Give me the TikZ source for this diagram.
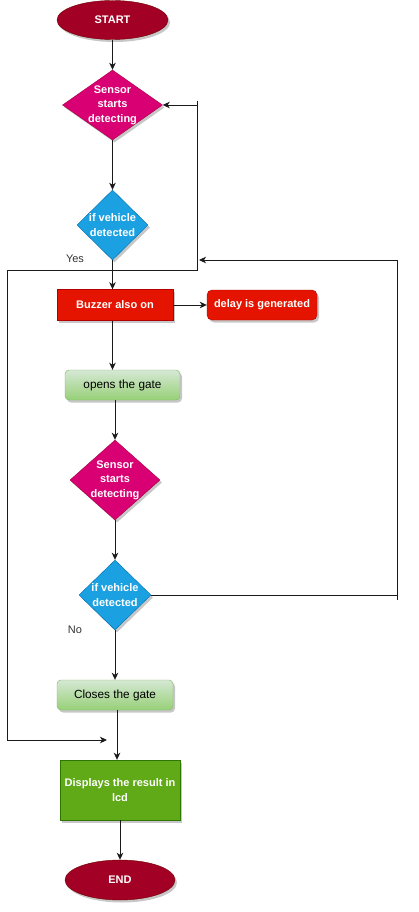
\documentclass[tikz,border=0pt]{standalone}
\usepackage{fontspec}
\setmainfont{Liberation Sans}
\usetikzlibrary{shapes.geometric,arrows.meta,shadows}
\definecolor{termfill}{HTML}{A20025}
\definecolor{termdraw}{HTML}{6F0000}
\definecolor{magfill}{HTML}{D80073}
\definecolor{magdraw}{HTML}{A50040}
\definecolor{bluefill}{HTML}{1BA1E2}
\definecolor{bluedraw}{HTML}{006EAF}
\definecolor{redfill}{HTML}{E51400}
\definecolor{reddraw}{HTML}{B20000}
\definecolor{gtop}{HTML}{D5E8D4}
\definecolor{gbot}{HTML}{97D077}
\definecolor{gdraw}{HTML}{82B366}
\definecolor{dgfill}{HTML}{60A917}
\definecolor{dgdraw}{HTML}{2D7600}
\definecolor{edgecol}{HTML}{1A1A1A}
\definecolor{labcol}{HTML}{333333}
\begin{document}
\begin{tikzpicture}[x=1pt,y=-1pt,
  shadowed/.style={drop shadow={shadow xshift=2pt,shadow yshift=-2.5pt,opacity=0.22,fill=black}},
  wtext/.style={text=white,font=\bfseries\fontsize{11}{14.5}\selectfont,align=center},
  btext/.style={text=black,font=\fontsize{11.8}{14.5}\selectfont,align=center},
  terminal/.style={ellipse,draw=termdraw,fill=termfill,inner sep=0pt,shadowed,wtext},
  diamag/.style={diamond,draw=magdraw,fill=magfill,inner sep=0pt,shadowed},
  diablue/.style={diamond,draw=bluedraw,fill=bluefill,inner sep=0pt,shadowed},
  redbox/.style={rectangle,draw=reddraw,fill=redfill,inner sep=0pt,shadowed,wtext},
  greenbox/.style={rectangle,rounded corners=4pt,draw=gdraw,top color=gtop,bottom color=gbot,inner sep=0pt,shadowed,btext},
  dgbox/.style={rectangle,draw=dgdraw,fill=dgfill,inner sep=0pt,shadowed,wtext},
  arr/.style={draw=edgecol,line width=0.9pt,-{Stealth[length=7pt,width=6.5pt,inset=2pt]}},
  ln/.style={draw=edgecol,line width=0.9pt},
  lab/.style={text=labcol,font=\fontsize{11}{13}\selectfont}
]
\useasboundingbox (0,0) rectangle (418,912);

% nodes
\node[terminal,minimum width=111pt,minimum height=39pt] (start) at (112.5,20) {START};
\node[diamag,minimum width=100pt,minimum height=70pt] (d1) at (112.5,105) {};
\node[wtext] (d1t) at (d1) {Sensor\\starts\\detecting};
\node[diablue,minimum width=71pt,minimum height=70pt] (d2) at (112.5,225) {};
\node[wtext] (d2t) at (d2) {if vehicle\\detected};
\node[redbox,minimum width=116pt,minimum height=31pt] (buz) at (115,305) {Buzzer also on};
\node[redbox,rounded corners=5pt,minimum width=110pt,minimum height=30pt] (delay) at (262,305) {delay is generated};
\node[greenbox,minimum width=115pt,minimum height=30pt] (op) at (122.5,385) {opens the gate};
\node[diamag,minimum width=90pt,minimum height=80pt] (d3) at (115,480) {};
\node[wtext] (d3t) at (d3) {Sensor\\starts\\detecting};
\node[diablue,minimum width=72pt,minimum height=70pt] (d4) at (115,595) {};
\node[wtext] (d4t) at (d4) {if vehicle\\detected};
\node[greenbox,minimum width=116pt,minimum height=30pt] (cl) at (115,695) {Closes the gate};
\node[dgbox,minimum width=120pt,minimum height=60pt] (disp) at (120,790) {Displays the result in\\lcd};
\node[terminal,minimum width=110pt,minimum height=40pt] (end) at (120,880) {END};

\node[lab] (yes) at (75,259) {Yes};
\node[lab] (no) at (75,630) {No};

% main flow
\draw[arr] (start.south) -- (d1.north);
\draw[arr] (d1.south) -- (d2.north);
\draw[arr] (d2.south) -- (d2.south |- buz.north);
\draw[arr] (buz.east) -- (delay.west);
\draw[arr] (buz.south -| d2.south) -- (d2.south |- op.north);
\draw[arr] (op.south -| d3.north) -- (d3.north);
\draw[arr] (d3.south) -- (d4.north);
\draw[arr] (d4.south) -- (cl.north);
\draw[arr] ([xshift=2pt]cl.south) -- ([xshift=2pt]cl.south |- disp.north);
\draw[arr] (disp.south) -- (end.north);

% loop 1
\coordinate (l1in) at (197,105);
\coordinate (l1top) at (197,101);
\coordinate (l1a) at (197,270);
\coordinate (l1b) at (7,270);
\coordinate (l1c) at (7,740);
\coordinate (l1end) at (107,740);
\draw[arr] (l1in) -- (d1.east);
\draw[arr] (l1top) -- (l1a) -- (l1b) -- (l1c) -- (l1end);

% loop 2
\coordinate (l2r) at (397,595);
\coordinate (l2bot) at (397,600);
\coordinate (l2top) at (397,260);
\coordinate (l2end) at (199,260);
\draw[ln] (d4.east) -- (l2r);
\draw[arr] (l2bot) -- (l2top) -- (l2end);
\end{tikzpicture}
\end{document}
